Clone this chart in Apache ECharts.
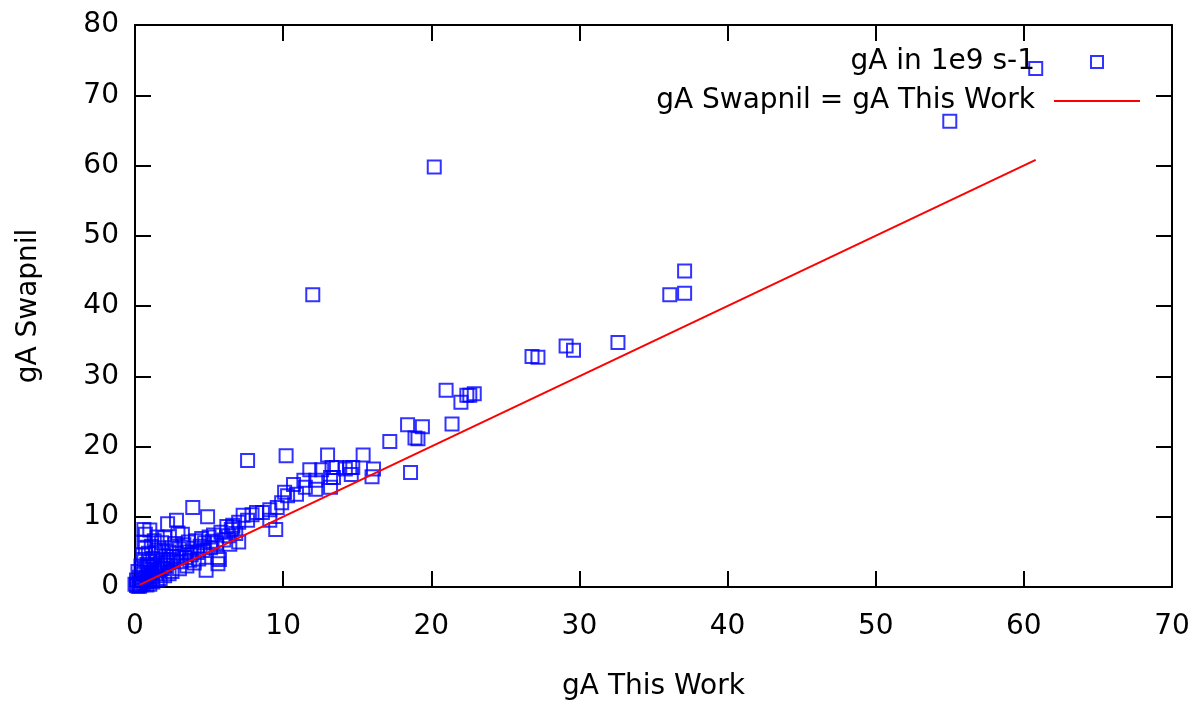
<!DOCTYPE html>
<html>
<head>
<meta charset="utf-8">
<script src="https://cdn.jsdelivr.net/npm/echarts@6/dist/echarts.min.js"></script>
<style>
html,body{margin:0;padding:0;background:#fff;}
#c{width:1197px;height:706px;}
</style>
</head>
<body>
<div id="c"></div>
<script>
// gA This Work (x) and gA Swapnil (y), in 1e9 s-1
const thisWork = [
0.1,0.2,0.0,0.3,0.1,0.4,0.5,0.6,0.3,0.7,0.8,0.5,0.9,1.0,0.2,0.6,1.1,1.2,0.4,0.8,
1.3,1.4,0.6,1.0,1.5,1.6,0.5,0.9,1.2,1.7,1.8,0.7,1.1,1.4,1.9,2.0,0.6,1.3,1.6,2.1,
2.2,0.7,1.0,0.6,1.5,1.8,2.3,2.4,2.2,2.0,2.5,2.6,2.8,2.7,2.8,2.9,3.0,3.1,3.2,3.3,
3.4,3.5,3.6,3.7,3.8,3.9,4.0,4.1,4.2,4.3,4.4,4.5,4.6,4.7,4.8,4.9,5.0,5.1,5.2,5.3,
5.5,5.6,5.7,5.6,5.8,6.0,6.2,6.3,6.5,6.6,6.8,7.0,6.4,6.6,7.0,7.3,7.6,7.9,8.2,8.6,
9.1,9.1,9.5,9.6,9.9,10.1,10.3,10.7,10.9,11.4,11.5,11.8,12.2,12.2,12.6,13.2,13.3,13.6,13.4,13.2,
7.6,10.2,13.0,12.0,14.2,14.5,14.7,14.6,15.4,16.1,16.0,17.2,18.4,18.6,18.9,19.1,19.4,20.2,21.0,21.4,
22.0,22.4,22.6,22.9,26.8,27.2,29.1,29.6,32.6,36.1,37.1,37.1,55.0,60.8,
1.0,1.5,2.0,2.5,3.0,3.5,4.0,0.3,0.8,1.2,1.7,2.3,0.9,1.9
];
const swapnil = [
0.2,0.1,0.4,0.6,1.0,0.3,0.9,0.5,1.4,1.2,0.8,1.8,1.6,1.1,2.2,2.5,2.0,1.5,3.0,3.2,
2.5,1.9,3.9,3.6,2.9,2.3,4.6,4.8,4.1,3.4,2.7,5.5,5.8,5.0,3.9,3.1,6.4,6.6,5.6,4.4,
3.5,7.5,8.1,8.2,7.1,6.3,5.0,3.9,9.0,7.0,5.6,4.3,9.5,6.2,4.8,7.7,5.4,3.6,7.5,6.0,
4.2,5.0,6.4,3.8,4.6,11.3,5.5,6.6,4.9,4.0,5.8,6.9,5.2,6.3,2.4,10.0,7.1,5.6,6.5,7.4,
6.3,3.3,3.9,4.2,7.8,6.7,8.6,7.3,8.2,8.8,7.6,6.4,6.1,8.5,9.2,10.2,9.5,10.3,10.6,10.6,
11.0,9.5,8.2,11.3,12.0,13.5,13.0,14.6,13.2,15.2,14.2,16.7,15.2,13.9,16.7,15.6,17.0,17.0,15.6,14.2,
18.0,18.7,18.8,41.6,16.8,17.0,17.0,16.0,18.8,16.8,15.7,20.7,23.1,16.3,21.2,21.1,22.8,59.8,28.0,23.2,
26.3,27.3,27.3,27.5,32.8,32.7,34.3,33.7,34.8,41.6,45.0,41.8,66.3,73.8,
0.4,1.0,1.6,2.2,2.6,3.0,3.4,0.1,0.3,0.7,1.2,1.9,2.9,2.6
];
// reference line gA Swapnil = gA This Work
const lineX = [0.3, 60.8];
const lineY = [0.3, 60.8];
const xTicks = [0, 10, 20, 30, 40, 50, 60, 70];
const yTicks = [0, 10, 20, 30, 40, 50, 60, 70, 80];
const seriesNames = ['gA in 1e9 s-1', 'gA Swapnil = gA This Work'];
const axisNames = ['gA This Work', 'gA Swapnil'];

const pts = thisWork.map((x, i) => [x, swapnil[i]]);
const linePts = lineX.map((x, i) => [x, lineY[i]]);

const FONT = 'DejaVu Sans';
const FS = 28;
const axisLine = {show: true, onZero: false, lineStyle: {color: '#000', width: 2}};
const tick = {show: true, inside: true, length: 16, lineStyle: {color: '#000', width: 2}};

const chart = echarts.init(document.getElementById('c'), null, {renderer: 'canvas'});
chart.setOption({
  animation: false,
  backgroundColor: '#fff',
  textStyle: {fontFamily: FONT},
  grid: {left: 135, right: 25, top: 25, bottom: 116},
  legend: {
    orient: 'vertical', align: 'right', right: 57, top: 47, padding: 0,
    itemWidth: 86, itemHeight: 12, itemGap: 9,
    textStyle: {fontFamily: FONT, fontSize: FS, color: '#000', lineHeight: 30, padding: [0, 14, 0, 0]},
    data: [
      {name: seriesNames[0], icon: 'path://M0 0H10V10H0Z',
       itemStyle: {color: 'transparent', borderColor: '#0000ff', borderWidth: 2}},
      {name: seriesNames[1], icon: 'path://M0 0H86V2H0Z',
       itemStyle: {color: '#ff0000', borderWidth: 0}}
    ]
  },
  xAxis: [
    {type: 'value', position: 'bottom', min: xTicks[0], max: xTicks[xTicks.length - 1], interval: 10,
     name: axisNames[0], nameLocation: 'middle', nameGap: 86,
     nameTextStyle: {fontFamily: FONT, fontSize: FS, color: '#000'},
     axisLine: axisLine, axisTick: tick, splitLine: {show: false},
     axisLabel: {fontFamily: FONT, fontSize: FS, color: '#000', margin: 26}},
    {type: 'value', position: 'top', min: xTicks[0], max: xTicks[xTicks.length - 1], interval: 10,
     axisLine: axisLine, axisTick: tick, splitLine: {show: false}, axisLabel: {show: false}}
  ],
  yAxis: [
    {type: 'value', position: 'left', min: yTicks[0], max: yTicks[yTicks.length - 1], interval: 10,
     name: axisNames[1], nameLocation: 'middle', nameGap: 92,
     nameTextStyle: {fontFamily: FONT, fontSize: FS, color: '#000'},
     axisLine: axisLine, axisTick: tick, splitLine: {show: false},
     axisLabel: {fontFamily: FONT, fontSize: FS, color: '#000', margin: 16}},
    {type: 'value', position: 'right', min: yTicks[0], max: yTicks[yTicks.length - 1], interval: 10,
     axisLine: axisLine, axisTick: tick, splitLine: {show: false}, axisLabel: {show: false}}
  ],
  series: [
    {name: seriesNames[0], type: 'scatter', data: pts, symbol: 'rect', symbolSize: 13,
     itemStyle: {color: 'transparent', borderColor: '#0000ff', borderWidth: 2}, z: 2},
    {name: seriesNames[1], type: 'line', data: linePts, symbol: 'none', showSymbol: false,
     lineStyle: {color: '#ff0000', width: 2}, itemStyle: {color: '#ff0000'}, z: 3}
  ]
});
</script>
</body>
</html>
